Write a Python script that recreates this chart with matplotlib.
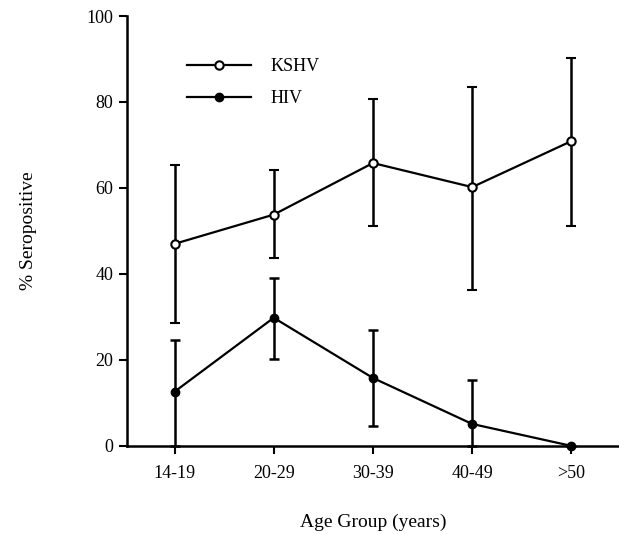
import numpy as np
import matplotlib.pyplot as plt

plt.rcParams['font.family'] = ['Liberation Serif', 'DejaVu Serif']

# Age groups and seropositivity (%)
age_groups = ["14-19", "20-29", "30-39", "40-49", ">50"]
kshv = [47.0, 53.8, 65.8, 60.2, 70.9]
kshv_low = [28.6, 43.7, 51.2, 36.3, 51.2]
kshv_high = [65.3, 64.2, 80.7, 83.5, 90.2]
hiv = [12.6, 29.8, 15.8, 5.1, 0.0]
hiv_low = [0.0, 20.2, 4.7, 0.0, 0.0]
hiv_high = [24.6, 39.0, 27.0, 15.3, 0.0]

x = np.arange(len(age_groups))

fig = plt.figure(figsize=(6.19, 5.34), dpi=100)
ax = fig.add_axes([0.205, 0.165, 0.795, 0.805])

kshv_err = [np.array(kshv) - np.array(kshv_low), np.array(kshv_high) - np.array(kshv)]
hiv_err = [np.array(hiv) - np.array(hiv_low), np.array(hiv_high) - np.array(hiv)]

ax.errorbar(x, kshv, yerr=kshv_err, color='black', lw=1.6, elinewidth=1.8,
            capsize=3.5, capthick=1.8, marker='o', ms=6, mfc='white',
            mec='black', mew=1.5, label='KSHV', zorder=3)
ax.errorbar(x, hiv, yerr=hiv_err, color='black', lw=1.6, elinewidth=1.8,
            capsize=3.5, capthick=1.8, marker='o', ms=6, mfc='black',
            mec='black', label='HIV', zorder=3, clip_on=False)

ax.set_xlim(-0.48, 4.48)
ax.set_ylim(0, 100)
ax.set_xticks(x)
ax.set_xticklabels(age_groups)
ax.set_yticks([0, 20, 40, 60, 80, 100])
ax.tick_params(axis='both', direction='out', length=6, width=1.5, labelsize=13)
ax.tick_params(axis='x', pad=8)
ax.tick_params(axis='y', pad=4)

for s in ['top', 'right']:
    ax.spines[s].set_visible(False)
for s in ['left', 'bottom']:
    ax.spines[s].set_linewidth(1.8)

ax.set_xlabel("Age Group (years)", fontsize=14, va='baseline')
ax.xaxis.set_label_coords(0.5, -0.188)
ax.set_ylabel("% Seropositive", fontsize=14, va='center')
ax.yaxis.set_label_coords(-0.2, 0.5)

handles, labels = ax.get_legend_handles_labels()
handles = [h[0] for h in handles]
ax.legend(handles, labels, loc='upper left', bbox_to_anchor=(0.09, 0.94),
          frameon=False, fontsize=13, handlelength=3.5, handletextpad=1.1,
          labelspacing=0.85)

fig.savefig("out.png", dpi=100)
